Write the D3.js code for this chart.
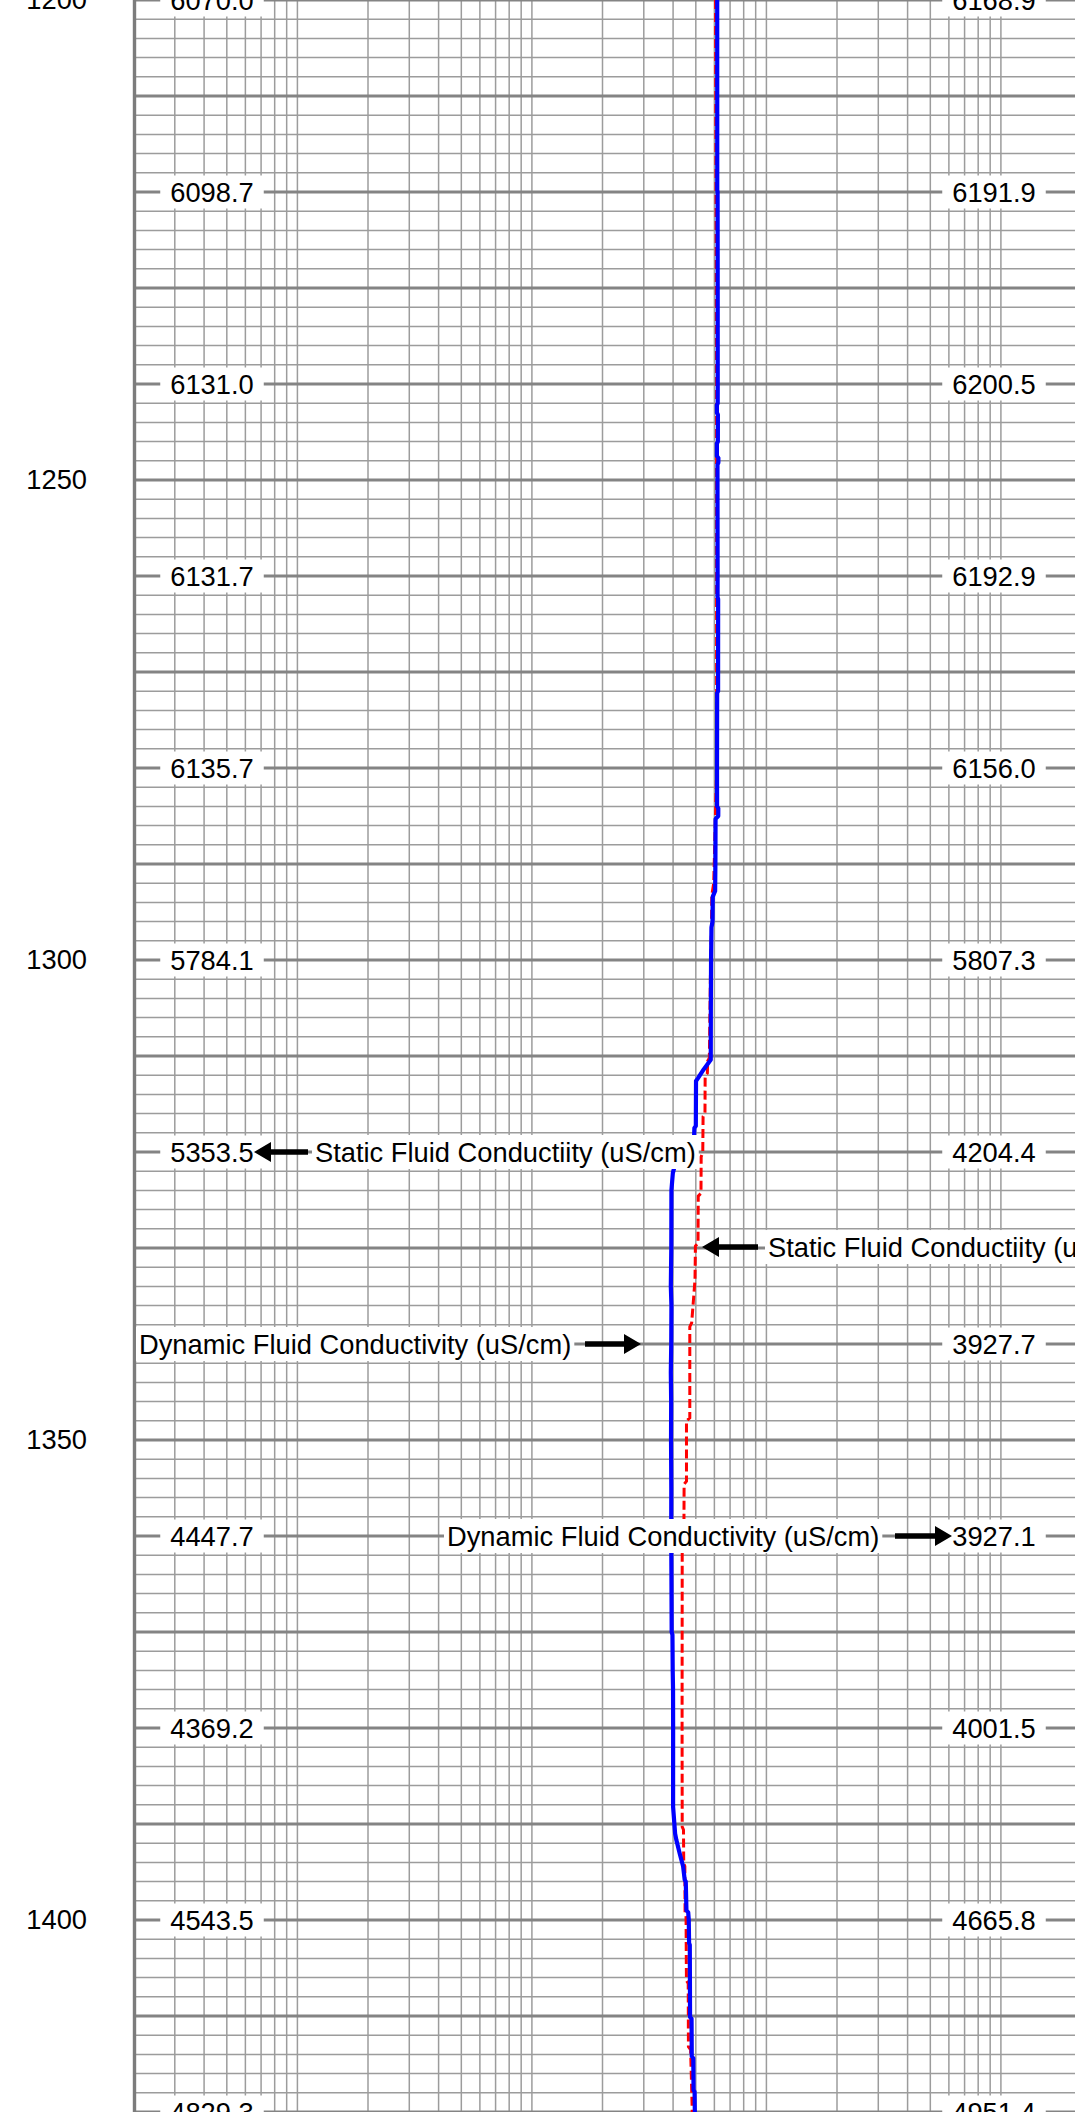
<!DOCTYPE html>
<html>
<head>
<meta charset="utf-8">
<script src="https://cdn.jsdelivr.net/npm/d3@7"></script>
<style>
  html, body { margin: 0; padding: 0; background: #fff; overflow: hidden; }
  svg { display: block; }
  text { font-family: "Liberation Sans", Arial, sans-serif; font-size: 27.3px; fill: #000; }
</style>
</head>
<body>
<svg id="chart" width="1075" height="2112"></svg>
<script>
// ---- data --------------------------------------------------------------
// Depth ticks on the left axis (m)
const depthTicks = [1200, 1250, 1300, 1350, 1400];

// Depths at which curve values are printed in the two value columns
const labelDepths = [1200, 1220, 1240, 1260, 1280, 1300, 1320, 1340, 1360, 1380, 1400, 1420];

// Dynamic fluid conductivity (uS/cm) vs depth (m) — solid blue
const dynamicFC = [
  [1200, 6168.9], [1210, 6170.5], [1219.8, 6172.0], [1220, 6191.9], [1230, 6198.0],
  [1240, 6200.5], [1242.0, 6199.0], [1242.2, 6150.0], [1243.0, 6152.0], [1243.2, 6210.0],
  [1246.0, 6208.0], [1246.2, 6150.0], [1247.5, 6150.0], [1247.7, 6240.0], [1248.2, 6238.0],
  [1248.4, 6185.0], [1260, 6192.9], [1262.2, 6190.0], [1262.4, 6225.0], [1272.0, 6222.0],
  [1272.2, 6165.0], [1280, 6156.0], [1284.0, 6160.0], [1284.2, 6235.0], [1285.0, 6232.0],
  [1285.3, 6070.0], [1290.0, 6060.0], [1292.8, 6045.0], [1293.4, 5905.0], [1296.0, 5890.0],
  [1296.6, 5830.0], [1300, 5807.3], [1305.0, 5795.0], [1310.4, 5790.0], [1311.4, 5400.0],
  [1312.3, 5110.0], [1312.6, 5010.0], [1317.3, 5000.0], [1317.5, 4930.0], [1318.8, 4910.0],
  [1319.3, 4720.0], [1320, 4204.4], [1322.2, 3990.0], [1324.0, 3935.0], [1328.0, 3932.0],
  [1330.0, 3930.0], [1334.0, 3912.0], [1336.0, 3935.0], [1340, 3927.7], [1343.0, 3912.0],
  [1346.0, 3925.0], [1350.0, 3920.0], [1355.0, 3930.0], [1360, 3927.1], [1364.0, 3935.0],
  [1370.0, 3945.0], [1370.3, 3975.0], [1374.0, 3985.0], [1376.0, 3998.0], [1380, 4001.5],
  [1388.2, 4000.0], [1391.0, 4080.0], [1391.7, 4133.0], [1393.1, 4271.0], [1394.4, 4413.0],
  [1395.8, 4482.0], [1396.0, 4530.0], [1399.0, 4560.0], [1399.2, 4640.0], [1400, 4665.8],
  [1402.4, 4680.0], [1402.6, 4713.0], [1410.1, 4725.0], [1410.3, 4795.0], [1414.2, 4805.0],
  [1414.4, 4877.0], [1417.7, 4890.0], [1417.9, 4940.0], [1420, 4951.4]
];

// Static fluid conductivity (uS/cm) vs depth (m) — dashed red
const staticFC = [
  [1200, 6070.0], [1210, 6085.0], [1220, 6098.7], [1230, 6115.0], [1240, 6131.0],
  [1250, 6131.0], [1260, 6131.7], [1270, 6133.0], [1280, 6135.7], [1288.0, 6020.0],
  [1292.0, 5960.0], [1293.3, 5850.0], [1297.0, 5830.0], [1300, 5784.1], [1310.2, 5710.0],
  [1310.5, 5620.0], [1311.8, 5600.0], [1312.1, 5480.0], [1316.0, 5470.0], [1316.3, 5370.0],
  [1320, 5353.5], [1320.5, 5270.0], [1324.3, 5260.0], [1324.6, 5120.0], [1329.5, 5110.0],
  [1329.8, 4980.0], [1333.3, 4960.0], [1335.0, 4900.0], [1337.8, 4800.0], [1338.2, 4713.0],
  [1347.7, 4713.0], [1348.0, 4562.0], [1354.3, 4562.0], [1354.6, 4457.0], [1360, 4447.7],
  [1361.5, 4375.0], [1380, 4369.2], [1390.3, 4375.0], [1390.6, 4430.0], [1394.1, 4440.0],
  [1394.4, 4490.0], [1399.3, 4500.0], [1399.6, 4540.0], [1400, 4543.5], [1406.3, 4560.0],
  [1406.6, 4640.0], [1413.2, 4650.0], [1413.5, 4750.0], [1420, 4829.3]
];

// Depths whose static value is covered by a curve caption
const staticHidden = [1340];

// Curve captions
const captionText = ["Static Fluid Conductiity (uS/cm)", "Static Fluid Conductiity (uS/cm)",
                     "Dynamic Fluid Conductivity (uS/cm)", "Dynamic Fluid Conductivity (uS/cm)"];
const captionDepth = [1320, 1329.9, 1340, 1360];

// ---- layout ------------------------------------------------------------
const W = 1075, H = 2112;
const svg = d3.select("#chart");

const x = d3.scaleLog().domain([20, 200000]).range([133.5, 1071.5]);
const y = d3.scaleLinear().domain([1200, 1420]).range([0, H]);

const plotLeft = 134.5;
const leftColX = 212, rightColX = 994;
// caption geometry: text start, arrow tail, arrow tip
const captionLayout = [
  { tx: 315, tail: 308, tip: 254 },
  { tx: 768, tail: 758, tip: 702 },
  { tx: 139, tail: 585, tip: 641 },
  { tx: 447, tail: 895, tip: 952 }
];

// ---- grid --------------------------------------------------------------
const grid = svg.append("g");
const vTicks = x.ticks().filter(v => v > 20 && v < 200000);
grid.selectAll("line.v").data(vTicks).join("line")
  .attr("class", "v")
  .attr("x1", d => x(d)).attr("x2", d => x(d))
  .attr("y1", 0).attr("y2", H)
  .attr("stroke", "#9c9c9c").attr("stroke-width", 1.5);

const hTicks = d3.range(1200, 1421, 2);
grid.selectAll("line.h").data(hTicks).join("line")
  .attr("class", "h")
  .attr("x1", plotLeft).attr("x2", W)
  .attr("y1", d => y(d)).attr("y2", d => y(d))
  .attr("stroke", d => d % 10 === 0 ? "#848484" : "#9c9c9c")
  .attr("stroke-width", d => d % 10 === 0 ? 2.9 : 1.5);

grid.append("line")
  .attr("x1", plotLeft).attr("x2", plotLeft)
  .attr("y1", 0).attr("y2", H)
  .attr("stroke", "#7c7c7c").attr("stroke-width", 3.4);

// ---- depth axis --------------------------------------------------------
const yAxis = d3.axisLeft(y).tickValues(depthTicks).tickSize(0).tickPadding(47.5)
  .tickFormat(d3.format("d"));
const axG = svg.append("g").attr("transform", `translate(${plotLeft},0)`).call(yAxis);
axG.select(".domain").remove();
axG.selectAll("text")
  .attr("fill", "#000")
  .style("font-family", '"Liberation Sans", Arial, sans-serif')
  .style("font-size", "27.3px");

// ---- curves ------------------------------------------------------------
const line = d3.line().x(d => x(d[1])).y(d => y(d[0]));

// static curve first, dynamic curve drawn over it
svg.append("path").datum(staticFC)
  .attr("d", line).attr("fill", "none")
  .attr("stroke", "#ff0000").attr("stroke-width", 3)
  .attr("stroke-dasharray", "9,4");

svg.append("path").datum(dynamicFC)
  .attr("d", line).attr("fill", "none")
  .attr("stroke", "#0000ff").attr("stroke-width", 4.2)
  .attr("stroke-linejoin", "round");

// ---- value columns -----------------------------------------------------
const valueAt = (series, d) => {
  const p = series.find(s => s[0] === d);
  return p ? p[1] : null;
};
const fmt = d3.format(".1f");

function valueLabel(cx, depth, val) {
  const g = svg.append("g");
  const rect = g.append("rect").attr("fill", "#fff");
  const t = g.append("text")
    .attr("x", cx).attr("y", y(depth))
    .attr("text-anchor", "middle").attr("dominant-baseline", "central")
    .text(fmt(val));
  const w = t.node().getComputedTextLength();
  rect.attr("x", cx - w / 2 - 10).attr("width", w + 20)
      .attr("y", y(depth) - 16.5).attr("height", 33);
}

labelDepths.forEach(d => {
  if (!staticHidden.includes(d)) valueLabel(leftColX, d, valueAt(staticFC, d));
  valueLabel(rightColX, d, valueAt(dynamicFC, d));
});

// ---- captions with arrows ---------------------------------------------
function arrow(g, yc, tail, tip) {
  const dir = Math.sign(tip - tail);
  const head = 17, half = 10, shaft = 2.7;
  const neck = tip - dir * head;
  g.append("path")
    .attr("d", `M${tail},${yc - shaft}L${neck},${yc - shaft}L${neck},${yc - half}L${tip},${yc}` +
               `L${neck},${yc + half}L${neck},${yc + shaft}L${tail},${yc + shaft}Z`)
    .attr("fill", "#000");
}

captionText.forEach((txt, i) => {
  const L = captionLayout[i];
  const yc = y(captionDepth[i]);
  const g = svg.append("g");
  const rect = g.append("rect").attr("fill", "#fff");
  const t = g.append("text")
    .attr("x", L.tx).attr("y", yc)
    .attr("dominant-baseline", "central")
    .text(txt);
  const w = t.node().getComputedTextLength();
  rect.attr("x", L.tx - 3).attr("width", w + 6)
      .attr("y", yc - 17).attr("height", 34);
  arrow(g, yc, L.tail, L.tip);
});
</script>
</body>
</html>
